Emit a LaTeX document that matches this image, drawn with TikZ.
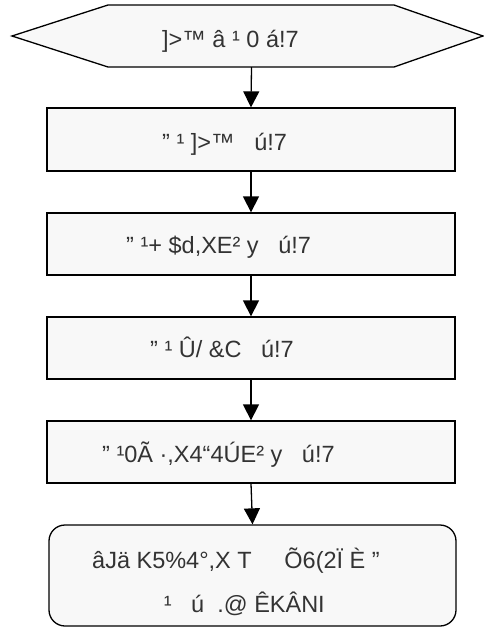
\documentclass[tikz,border=0pt]{standalone}
\usepackage{fontspec}
\setmainfont{Liberation Sans}
\usetikzlibrary{arrows.meta}
\definecolor{boxfill}{HTML}{F8F8F8}
\definecolor{txt}{HTML}{333333}
\begin{document}
\begin{tikzpicture}[x=1pt,y=1pt,
  shapeline/.style={draw=black, line width=1.3pt, fill=boxfill},
  stepbox/.style={shapeline, rectangle, minimum width=408pt, minimum height=62pt, inner sep=0pt},
  endbox/.style={shapeline, rectangle, rounded corners=16pt, minimum width=407pt, minimum height=101pt, inner sep=0pt},
  lbl/.style={text=txt, inner sep=0pt, font=\fontsize{23.5}{28}\selectfont},
  flow/.style={draw=black, line width=1.3pt, -{Triangle[length=16pt,width=16pt]}}]
\useasboundingbox (0,0) rectangle (484,-627);
% hexagon (start)
\node[minimum width=300pt, minimum height=62pt, inner sep=0pt] (hex) at (251.5,-36) {};
\draw[shapeline, line join=miter] (12,-36) -- (108,-5) -- (394,-5) -- (483,-36) -- (394,-67) -- (108,-67) -- cycle;
\node[lbl, anchor=base west] (t0) at (162,-47.5) {]>™ â ¹ 0 á!7};
% steps
\node[stepbox, minimum height=63pt] (b1) at (251,-139.5) {};
\node[lbl, anchor=base west] (t1) at (162,-150) {” ¹ ]>™~~~ú!7};
\node[stepbox] (b2) at (251,-244) {};
\node[lbl, anchor=base west] (t2) at (126,-253) {” ¹+ \$d,XE² y~~~ú!7};
\node[stepbox] (b3) at (251,-348) {};
\node[lbl, anchor=base west] (t3) at (150,-357) {” ¹ Û/ \&C~~~ú!7};
\node[stepbox] (b4) at (251,-452) {};
\node[lbl, anchor=base west] (t4) at (102,-462) {” ¹0Ã ·,X4“4ÚE² y~~~ú!7};
\node[endbox] (b5) at (252.5,-575.5) {};
\node[lbl, anchor=base west] (t5) at (92,-568) {âJä K5\%4°,X T~~~~~Õ6(2Ï È ”};
\node[lbl, anchor=base east] (t6) at (325,-612) {¹~~~ú~~.@ ÊKÂNI};
% connectors
\draw[flow] (hex.south) -- (b1.north);
\draw[flow] (b1.south) -- (b2.north);
\draw[flow] (b2.south) -- (b3.north);
\draw[flow] (b3.south) -- (b4.north);
\draw[flow] (b4.south) -- (b5.north);
\end{tikzpicture}
\end{document}
